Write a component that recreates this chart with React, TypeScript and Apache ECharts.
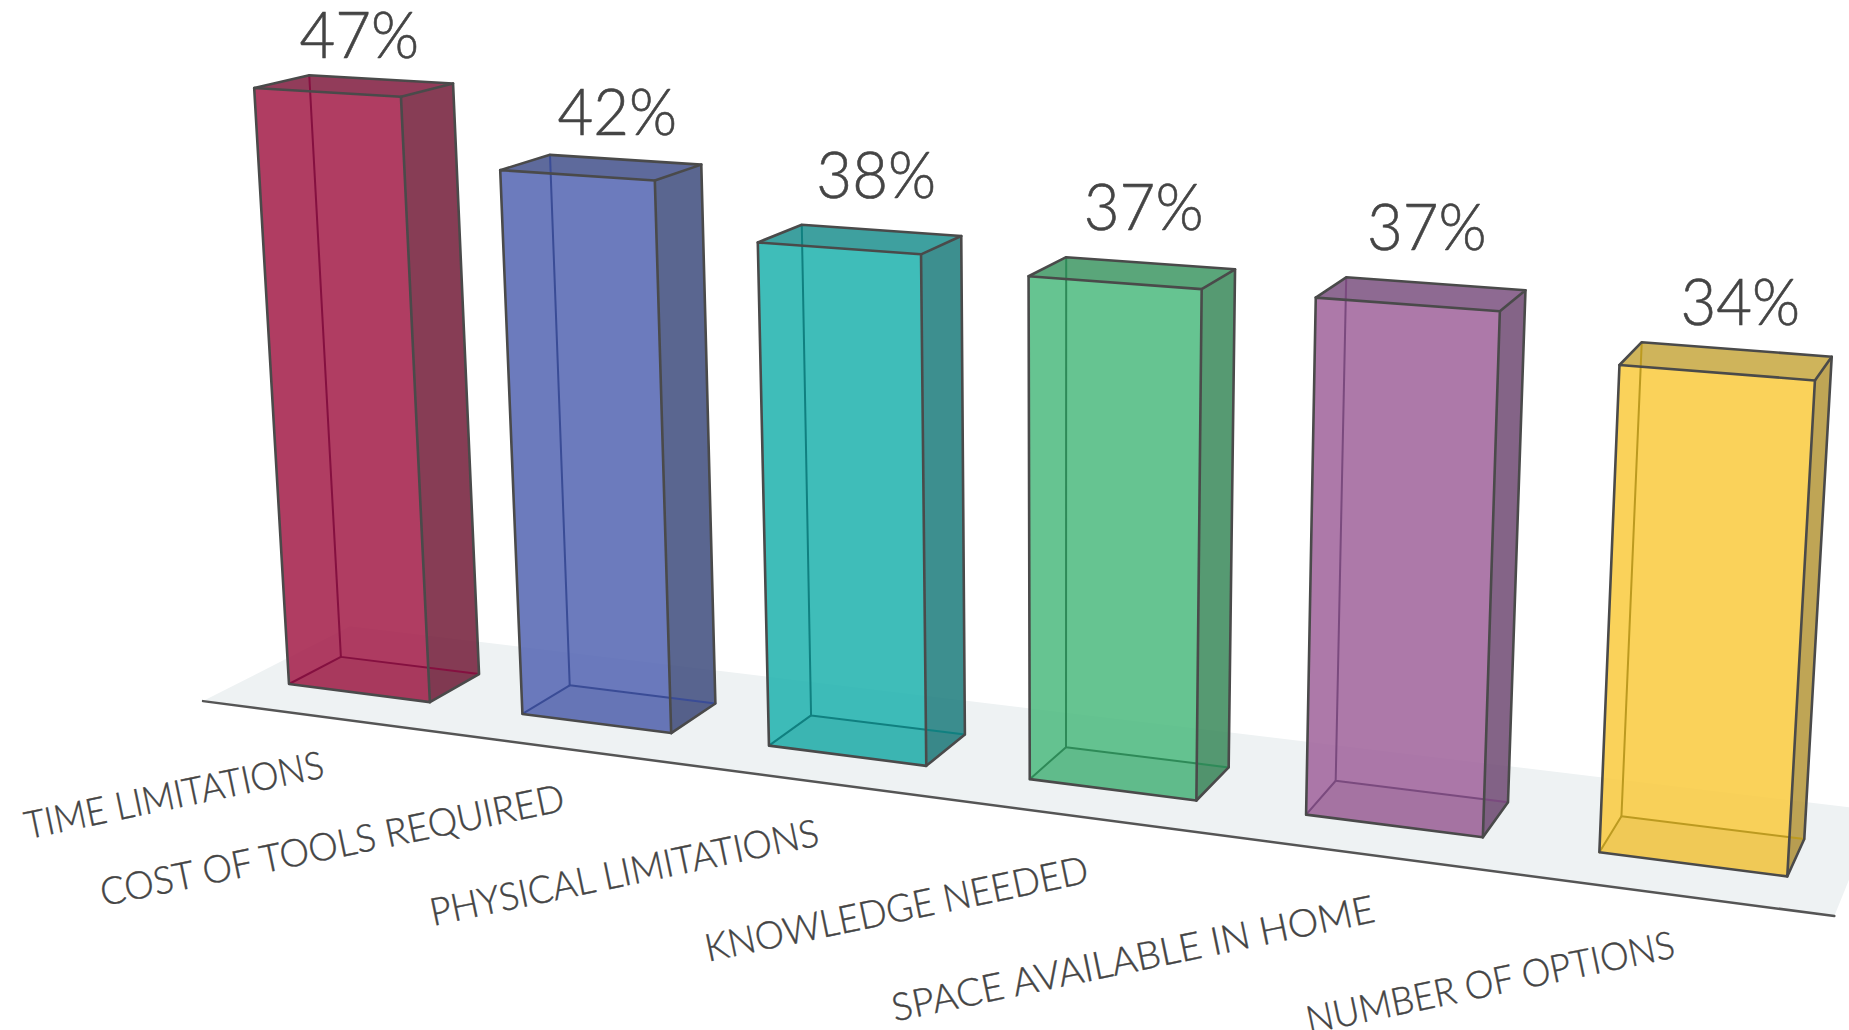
import React, { useEffect, useRef } from "react";
import * as echarts from "echarts";

const categories = [
  "TIME LIMITATIONS",
  "COST OF TOOLS REQUIRED",
  "PHYSICAL LIMITATIONS",
  "KNOWLEDGE NEEDED",
  "SPACE AVAILABLE IN HOME",
  "NUMBER OF OPTIONS",
];
const percentages = [47, 42, 38, 37, 37, 34];

const frontColors = ["#B03D62", "#6C7BBD", "#3FBDB9", "#66C491", "#AD79A9", "#FAD25A"];
const sideColors = ["#873D55", "#5A6690", "#3D8F8F", "#569A72", "#856487", "#BFA555"];
const topColors = ["#923C5A", "#5E6A9C", "#3EA09F", "#5AA67A", "#8E6A92", "#CFB45B"];
const innerColors = ["#851040", "#3A4C96", "#108080", "#2E8A58", "#7A4A7E", "#BC9A20"];

// Hand placement of the texts, which do not follow the perspective exactly.
const valueNudgeX = [8, 18, 17, 11, 4, 11];
const valueNudgeY = [3, -1, -9, -9, -8, 1];
const nameStretch = [0.99, 1.034, 1.025, 1.02, 1.068, 1.005];
const nameNudgeX = [0, 0, 0, 0, 0, -4];
const nameNudgeY = [0, 0, 0, 0, 0, -6];

const EDGE = "#4A4A4A";
const TEXT = "#444444";
const FONT = "Lato";

// Perspective camera: the ground origin and one vanishing point per world axis.
const ORIGIN = [289, 684];
const VP_X = [-8253, -413];
const VP_Y = [1061, 13900];
const VP_Z = [2370, -404];
const K_X = -0.0266;
const K_Y = -0.000918;
const K_Z = 0.02557;

const BAR_WIDTH = 0.61;
const BAR_DEPTH = 1;
const FLOOR = { x0: -0.185, x1: 5.8, z0: -0.8, z1: 2 };

function project(X: number, Y: number, Z: number): number[] {
  const a = X * K_X;
  const b = Y * K_Y;
  const c = Z * K_Z;
  const w = 1 + a + b + c;
  return [
    (ORIGIN[0] + a * VP_X[0] + b * VP_Y[0] + c * VP_Z[0]) / w,
    (ORIGIN[1] + a * VP_X[1] + b * VP_Y[1] + c * VP_Z[1]) / w,
  ];
}

function translucent(hex: string, alpha: number): string {
  const n = parseInt(hex.slice(1), 16);
  const f = (v: number) => Math.max(0, Math.round((v - 255 * (1 - alpha)) / alpha));
  return `rgba(${f((n >> 16) & 255)},${f((n >> 8) & 255)},${f(n & 255)},${alpha})`;
}

function face(points: number[][], fill: string) {
  return { type: "polygon", silent: true, shape: { points }, style: { fill, stroke: "none" } };
}

function edge(points: number[][], stroke: string, lineWidth: number) {
  return {
    type: "polyline",
    silent: true,
    shape: { points },
    style: { fill: "none", stroke, lineWidth, lineJoin: "round", lineCap: "round" },
  };
}

function renderFloor() {
  const { x0, x1, z0, z1 } = FLOOR;
  const a = project(x0, 0, z0);
  const b = project(x1, 0, z0);
  const c = project(x1, 0, z1);
  const d = project(x0, 0, z1);
  return {
    type: "group",
    children: [face([a, b, c, d], "#EEF2F3"), edge([a, b], "#555555", 2.5)],
  };
}

function renderBar(params: any, api: any) {
  const i = params.dataIndex;
  const value = api.value(1) as number;
  const base = api.coord([api.value(0), 0]);
  const head = api.coord([api.value(0), value]);
  const band = api.size([1, 0])[0];
  const unit = api.size([0, 1])[1];

  // World position comes from the cartesian scales: one band is one bar pitch, one y unit is 1%.
  const x0 = base[0] / band - 0.5;
  const x1 = x0 + BAR_WIDTH;
  const h = (base[1] - head[1]) / unit;

  const fbl = project(x0, 0, 0);
  const fbr = project(x1, 0, 0);
  const bbr = project(x1, 0, BAR_DEPTH);
  const bbl = project(x0, 0, BAR_DEPTH);
  const ftl = project(x0, h, 0);
  const ftr = project(x1, h, 0);
  const btr = project(x1, h, BAR_DEPTH);
  const btl = project(x0, h, BAR_DEPTH);

  const inner = innerColors[i];
  const valueAnchor = project(x0 + BAR_WIDTH / 2, h + 4.2, BAR_DEPTH / 2);
  const nameAnchor = project(x0 * 1.028 + 0.13, -6.2, 0);

  return {
    type: "group",
    children: [
      face([ftl, ftr, fbr, fbl], translucent(frontColors[i], 0.85)),
      face([ftr, btr, bbr, fbr], translucent(sideColors[i], 0.85)),
      face([ftl, btl, btr, ftr], translucent(topColors[i], 0.85)),
      face([fbl, fbr, bbr, bbl], "rgba(0,0,0,0.03)"),
      edge([btl, bbl, bbr], inner, 2),
      edge([fbl, bbl], inner, 2),
      edge([ftl, btl, btr, ftr], EDGE, 2.6),
      edge([btr, bbr, fbr], EDGE, 2.6),
      edge([ftl, ftr, fbr, fbl, ftl], EDGE, 2.6),
      {
        type: "text",
        silent: true,
        x: valueAnchor[0] + valueNudgeX[i],
        y: valueAnchor[1] + valueNudgeY[i],
        scaleX: 0.95,
        style: {
          text: `${value}%`,
          fontFamily: FONT,
          fontWeight: 300,
          fontSize: 65,
          lineHeight: 56,
          fill: TEXT,
          stroke: TEXT,
          lineWidth: 0.6,
          textAlign: "center",
          textVerticalAlign: "middle",
        },
      },
      {
        type: "text",
        silent: true,
        x: nameAnchor[0] + nameNudgeX[i],
        y: nameAnchor[1] + nameNudgeY[i],
        rotation: 0.205,
        scaleX: nameStretch[i],
        scaleY: 1.06,
        style: {
          text: categories[i],
          fontFamily: FONT,
          fontWeight: 300,
          fontSize: 36,
          lineHeight: 32,
          fill: TEXT,
          stroke: TEXT,
          lineWidth: 0.4,
          textAlign: "right",
          textVerticalAlign: "middle",
        },
      },
    ],
  };
}

export default function App() {
  const ref = useRef<HTMLDivElement>(null);

  useEffect(() => {
    const chart = echarts.init(ref.current!, undefined, { renderer: "svg" });
    chart.setOption({
      animation: false,
      backgroundColor: "#FFFFFF",
      grid: { left: 0, right: 0, top: 0, bottom: 0 },
      xAxis: { type: "category", data: categories, show: false },
      yAxis: { type: "value", min: 0, max: 50, show: false },
      series: [
        {
          type: "custom",
          coordinateSystem: "cartesian2d",
          clip: false,
          silent: true,
          data: [[0, 0]],
          renderItem: renderFloor,
        },
        {
          type: "custom",
          coordinateSystem: "cartesian2d",
          clip: false,
          silent: true,
          encode: { x: 0, y: 1 },
          data: percentages.map((v, i) => [i, v]),
          renderItem: renderBar,
        },
      ],
    });
    return () => chart.dispose();
  }, []);

  return (
    <div
      ref={ref}
      style={{ position: "fixed", left: 0, top: 0, width: 1849, height: 1030 }}
    />
  );
}
